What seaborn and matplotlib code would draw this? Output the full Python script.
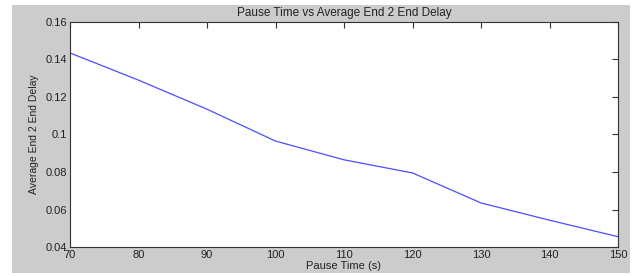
import matplotlib
matplotlib.use("Agg")
import matplotlib.pyplot as plt
import seaborn as sns
import pandas as pd
from matplotlib.patches import Rectangle

pause_time = [70, 80, 90, 100, 110, 120, 130, 140, 150]
avg_delay = [0.1435, 0.129, 0.1135, 0.0965, 0.0865, 0.0795, 0.0635, 0.0543, 0.0455]
x_ticks = [70, 80, 90, 100, 110, 120, 130, 140, 150]
y_ticks = [0.04, 0.06, 0.08, 0.1, 0.12, 0.14, 0.16]
y_ticklabels = ["0.04", "0.06", "0.08", "0.1", "0.12", "0.14", "0.16"]

sns.set_style("white")
plt.rcParams["font.family"] = ["Liberation Sans", "DejaVu Sans"]

df = pd.DataFrame({"Pause Time (s)": pause_time, "Average End 2 End Delay": avg_delay})

W, H = 634, 276
fig = plt.figure(figsize=(W / 100, H / 100), dpi=100, facecolor="white")
bg = Rectangle((12 / W, 1 - 273 / H), (630 - 12) / W, (273 - 5) / H,
               transform=fig.transFigure, facecolor="#cccccc",
               edgecolor="none", zorder=-10)
fig.add_artist(bg)
ax = fig.add_axes([70 / W, 1 - 247 / H, (618 - 70) / W, (247 - 22) / H])
ax.set_zorder(1)
ax.set_facecolor("white")

sns.lineplot(data=df, x="Pause Time (s)", y="Average End 2 End Delay", ax=ax,
             color="#4d4dff", linewidth=0.9)

ax.set_xlim(70, 150)
ax.set_ylim(0.04, 0.16)
ax.set_xticks(x_ticks)
ax.set_xticklabels([str(v) for v in x_ticks])
ax.set_yticks(y_ticks)
ax.set_yticklabels(y_ticklabels)
ax.tick_params(direction="in", length=4, width=0.8, color="#333333",
               top=True, right=True, labelsize=8, pad=2, labelcolor="#222222")
for s in ax.spines.values():
    s.set_visible(True)
    s.set_color("#333333")
    s.set_linewidth(0.8)

ax.set_title("Pause Time vs Average End 2 End Delay", fontsize=8.5, pad=4, color="#222222")
ax.set_xlabel("Pause Time (s)", fontsize=8, labelpad=1, color="#222222")
ax.set_ylabel("Average End 2 End Delay", fontsize=7.5, labelpad=5, color="#222222")

fig.savefig("out.png", dpi=100, facecolor="white")
